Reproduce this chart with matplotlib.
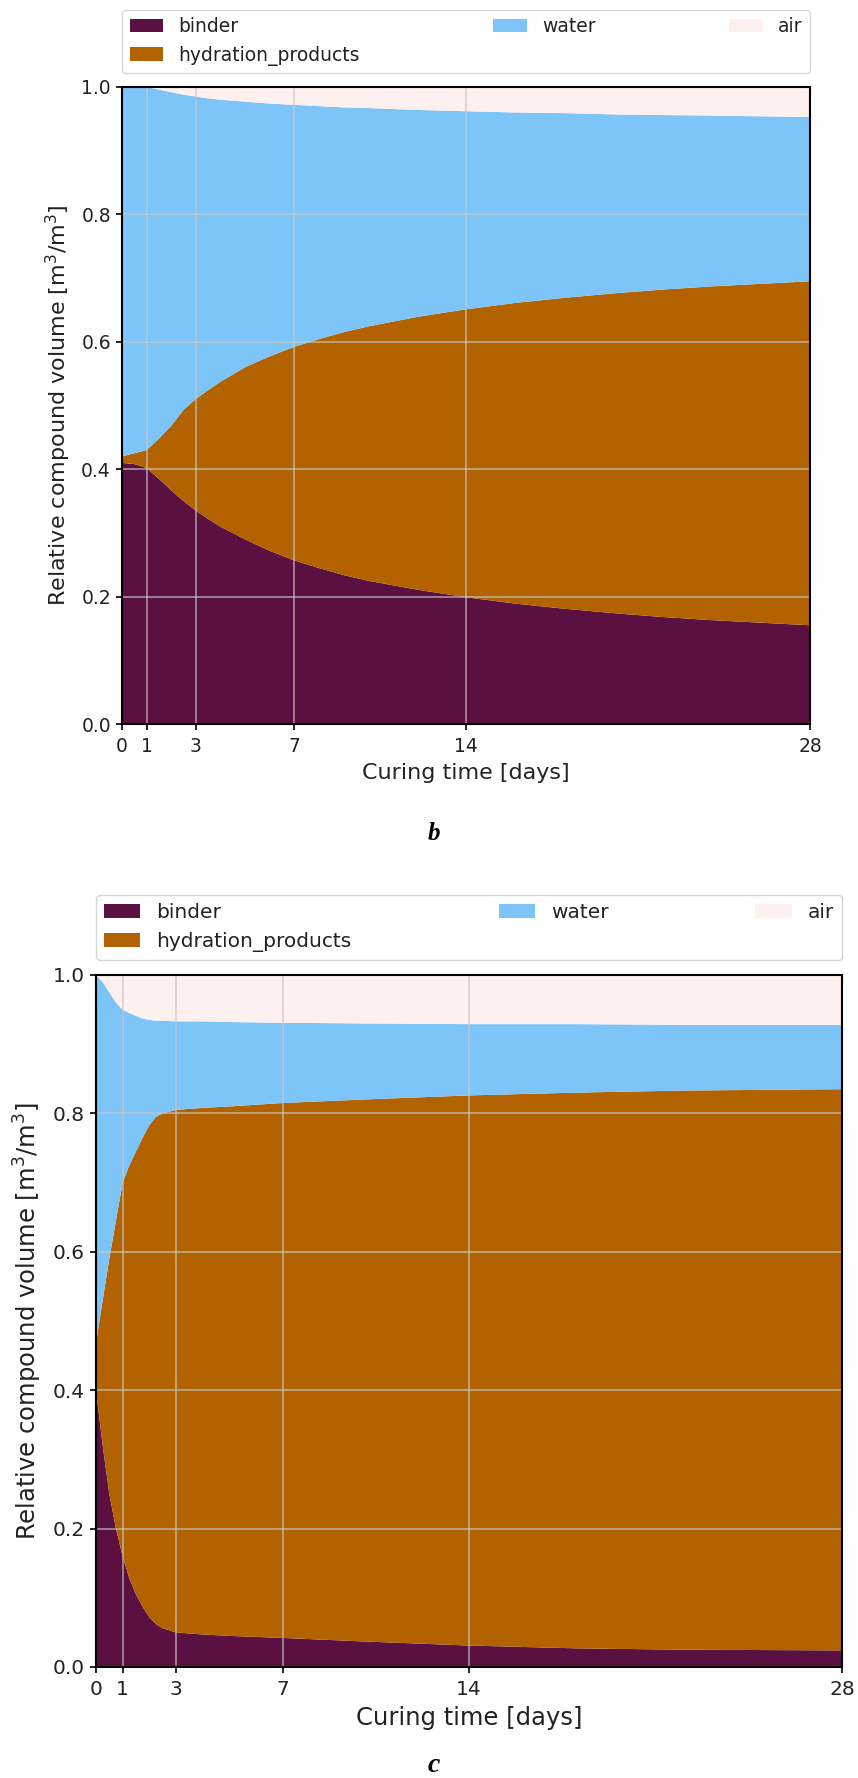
import matplotlib
matplotlib.use("Agg")
import matplotlib.pyplot as plt
from matplotlib.ticker import FormatStrFormatter

# ---------------- data ----------------
labels = ["binder", "hydration_products", "water", "air"]
colors = ["#5a1040", "#b36200", "#7dc4f8", "#fdf0ee"]
xticks = [0, 1, 3, 7, 14, 28]
yticks = [0.0, 0.2, 0.4, 0.6, 0.8, 1.0]

# panel b (curing time in days, relative volumes)
time_b = [0, 0.5, 1, 1.5, 2, 2.5, 3, 3.5, 4, 5, 6, 7, 8, 9, 10, 12, 14, 16, 18, 20, 22, 24, 26, 28]
binder_b = [0.410, 0.408, 0.402, 0.385, 0.367, 0.350, 0.335, 0.322, 0.310, 0.290, 0.272, 0.257,
            0.245, 0.234, 0.225, 0.211, 0.199, 0.189, 0.181, 0.174, 0.168, 0.163, 0.159, 0.155]
hydration_b = [0.010, 0.017, 0.028, 0.063, 0.101, 0.143, 0.175, 0.202, 0.227, 0.270, 0.305, 0.335,
               0.359, 0.381, 0.399, 0.428, 0.452, 0.472, 0.488, 0.502, 0.514, 0.524, 0.532, 0.540]
water_b = [0.580, 0.575, 0.570, 0.548, 0.524, 0.495, 0.475, 0.458, 0.443, 0.417, 0.397, 0.380,
           0.366, 0.353, 0.343, 0.325, 0.311, 0.299, 0.290, 0.281, 0.274, 0.268, 0.263, 0.258]
air_b = [0.0, 0.0, 0.0, 0.004, 0.008, 0.012, 0.015, 0.018, 0.020, 0.023, 0.026, 0.028,
         0.030, 0.032, 0.033, 0.036, 0.038, 0.040, 0.041, 0.043, 0.044, 0.045, 0.046, 0.047]

# panel c
time_c = [0, 0.25, 0.5, 0.75, 1, 1.25, 1.5, 1.75, 2, 2.25, 2.5, 3, 4, 5, 7, 10, 14, 18, 22, 28]
binder_c = [0.400, 0.320, 0.250, 0.200, 0.160, 0.128, 0.105, 0.087, 0.072, 0.062, 0.056, 0.050,
            0.047, 0.045, 0.042, 0.037, 0.031, 0.027, 0.025, 0.024]
hydration_c = [0.068, 0.210, 0.340, 0.445, 0.540, 0.597, 0.640, 0.678, 0.711, 0.733, 0.744, 0.755,
               0.761, 0.765, 0.773, 0.783, 0.795, 0.803, 0.808, 0.811]
water_c = [0.532, 0.460, 0.385, 0.315, 0.250, 0.220, 0.196, 0.172, 0.152, 0.139, 0.134, 0.128,
           0.125, 0.122, 0.116, 0.110, 0.103, 0.099, 0.095, 0.093]
air_c = [0.0, 0.010, 0.025, 0.040, 0.050, 0.055, 0.059, 0.063, 0.065, 0.066, 0.066, 0.067,
         0.067, 0.068, 0.069, 0.070, 0.071, 0.071, 0.072, 0.072]

W, H = 858, 1778
fig = plt.figure(figsize=(W / 100, H / 100), dpi=100)


def panel(rect, t, series, fs_tick, fs_label, legend_gap):
    ax = fig.add_axes(rect)
    ax.stackplot(t, *series, colors=colors, labels=labels, linewidth=0)
    ax.set_xlim(0, 28)
    ax.set_ylim(0, 1)
    ax.set_xticks(xticks)
    ax.set_yticks(yticks)
    ax.yaxis.set_major_formatter(FormatStrFormatter("%.1f"))
    ax.grid(True, color="#c8c8c8", alpha=0.65, linewidth=1.3)
    for s in ax.spines.values():
        s.set_linewidth(1.5)
        s.set_color("black")
    ax.tick_params(labelsize=fs_tick, length=4.5, width=1.2, color="black",
                   labelcolor="#222222")
    ax.tick_params(axis="x", pad=5)
    ax.set_xlabel("Curing time [days]", fontsize=fs_label, labelpad=5, color="#222222")
    ax.set_ylabel("Relative compound volume [m$^3$/m$^3$]", fontsize=fs_label,
                  labelpad=6, color="#222222")
    leg = ax.legend(loc="lower left", bbox_to_anchor=(0, 1 + legend_gap, 1, 0.1),
                    ncol=3, mode="expand", borderaxespad=0, fontsize=fs_tick,
                    handlelength=1.8, handleheight=0.7)
    for txt in leg.get_texts():
        txt.set_color("#222222")
    return ax


axb = panel([122 / W, 1 - 724 / H, 688 / W, 637 / H], time_b,
            [binder_b, hydration_b, water_b, air_b], 13.5, 16, 14 / 637)
axc = panel([96 / W, 1 - 1667 / H, 746 / W, 692 / H], time_c,
            [binder_c, hydration_c, water_c, air_c], 14.5, 17.5, 15 / 692)

fig.text(434 / W, 1 - 833 / H, "b", ha="center", va="center", fontsize=18,
         family="Liberation Serif", weight="bold", style="italic")
fig.text(434 / W, 1 - 1765 / H, "c", ha="center", va="center", fontsize=20,
         family="Liberation Serif", weight="bold", style="italic")

fig.savefig("out.png", dpi=100)
